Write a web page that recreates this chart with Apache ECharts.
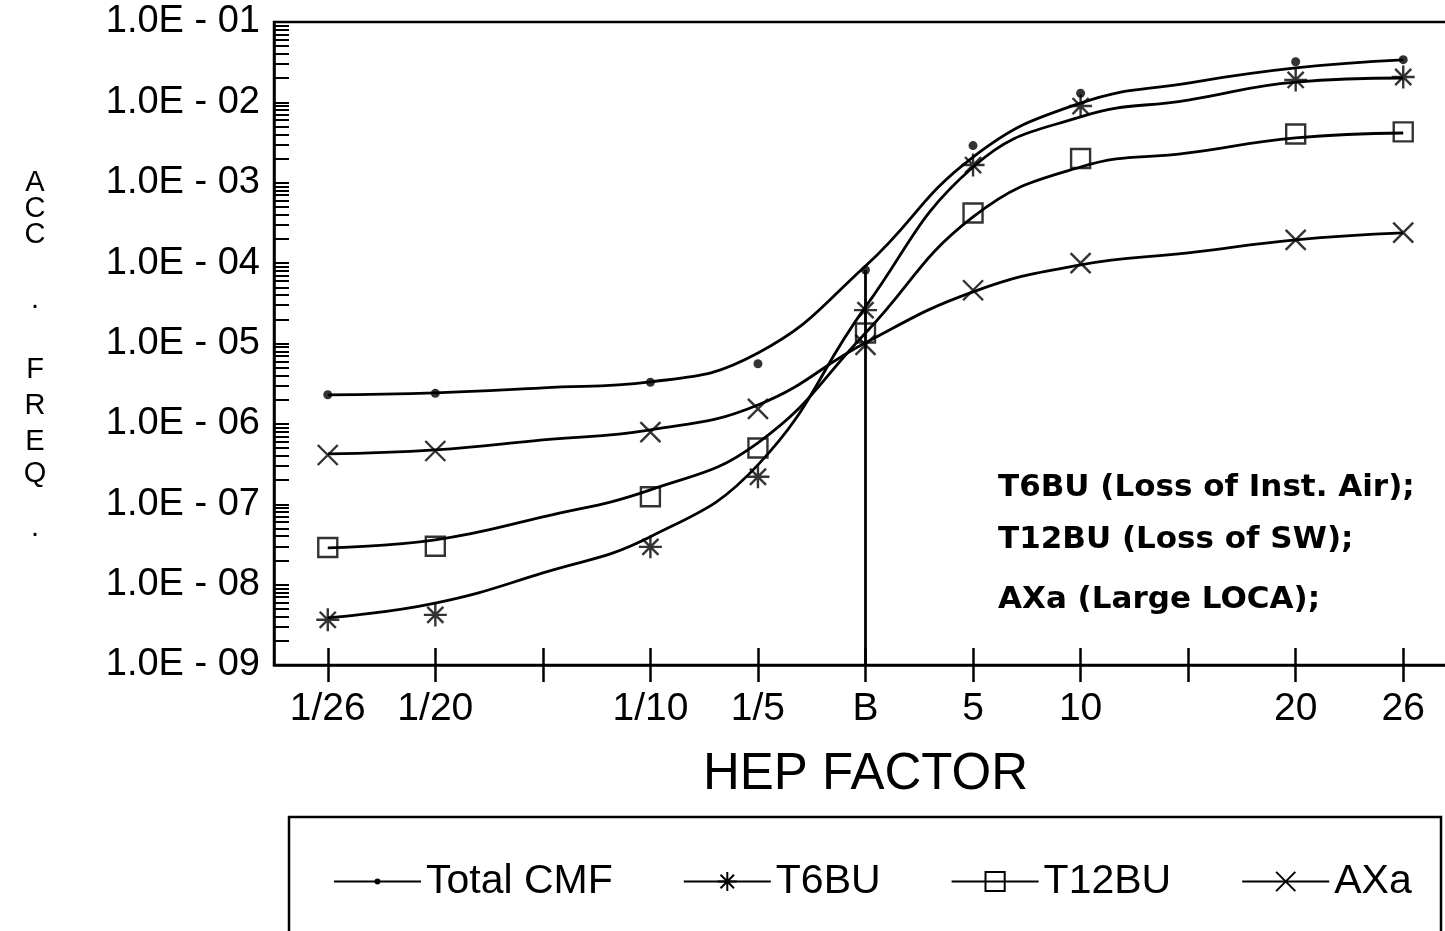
<!DOCTYPE html>
<html>
<head>
<meta charset="utf-8">
<script src="https://cdn.jsdelivr.net/npm/echarts@6/dist/echarts.min.js"></script>
<style>
  html, body { margin: 0; padding: 0; background: #fff; }
  #main { width: 1445px; height: 931px; }
</style>
</head>
<body>
<div id="main"></div>
<script>
// HEP factor positions (two unlabeled tick positions)
var hepLabels = ['1/26', '1/20', '', '1/10', '1/5', 'B', '5', '10', ' ', '20', '26'];
var decadeLabels = [1e-9, 1e-8, 1e-7, 1e-6, 1e-5, 1e-4, 1e-3, 1e-2, 1e-1];

// fitted curves
var totalCurve = [2.30e-6, 2.43e-6, 2.81e-6, 3.33e-6, 7.6e-6, 9.2e-5, 2.09e-3, 9.8e-3, 1.74e-2, 2.68e-2, 3.37e-2];
var t6buCurve  = [3.86e-9, 5.9e-9, 1.40e-8, 3.94e-8, 3.09e-7, 2.85e-5, 1.57e-3, 6.6e-3, 1.07e-2, 1.79e-2, 2.01e-2];
var t12buCurve = [2.87e-8, 3.61e-8, 6.97e-8, 1.51e-7, 5.81e-7, 1.35e-5, 3.76e-4, 1.57e-3, 2.35e-3, 3.61e-3, 4.16e-3];
var axaCurve   = [4.24e-7, 4.75e-7, 6.32e-7, 8.42e-7, 1.72e-6, 1.02e-5, 4.39e-5, 9.5e-5, 1.34e-4, 1.95e-4, 2.38e-4];

// plotted points
var totalPts = [2.3e-6, 2.4e-6, '-', 3.3e-6, 5.6e-6, 8.2e-5, 2.9e-3, 1.3e-2, '-', 3.2e-2, 3.4e-2];
var t6buPts  = [3.65e-9, 4.2e-9, '-', 2.95e-8, 2.2e-7, 2.6e-5, 1.66e-3, 9.0e-3, '-', 1.9e-2, 2.07e-2];
var t12buPts = [2.9e-8, 3.0e-8, '-', 1.24e-7, 5.0e-7, 1.35e-5, 4.2e-4, 2.0e-3, '-', 4.05e-3, 4.3e-3];
var axaPts   = [4.1e-7, 4.6e-7, '-', 7.9e-7, 1.54e-6, 9.6e-6, 4.6e-5, 1.0e-4, '-', 1.95e-4, 2.4e-4];

var notes = ['T6BU (Loss of Inst. Air);', 'T12BU (Loss of SW);', 'AXa (Large LOCA);'];

var chart = echarts.init(document.getElementById('main'));

// log ticks 1..9 x 10^e
var logTicks = [];
for (var e = -9; e <= -2; e++) {
    for (var m = 1; m <= 9; m++) {
        logTicks.push(parseFloat((m * Math.pow(10, e)).toPrecision(3)));
    }
}
logTicks.push(1e-1);

var FONT = 'Liberation Sans';
var symDot = 'path://M0,0L0,0M20,20L20,20M7,10a3,3 0 1,0 6,0a3,3 0 1,0 -6,0Z';
var symStar = 'path://M10,0L10,20M0,10L20,10M3,3L17,17M17,3L3,17';
var symX = 'path://M0,0L20,20M20,0L0,20';
var hollow = { color: 'transparent', borderColor: '#000', borderWidth: 2.4 };

function curve(name, data, symbol, itemStyle) {
    return {
        name: name, type: 'line', data: data, smooth: 0.45,
        symbol: symbol, showSymbol: false,
        itemStyle: itemStyle,
        lineStyle: { color: '#000', width: 2.8 },
        emphasis: { disabled: true }, z: 2
    };
}
function points(name, data, symbol, size, itemStyle) {
    return {
        name: name, type: 'scatter', data: data,
        symbol: symbol, symbolSize: size, itemStyle: itemStyle,
        emphasis: { disabled: true }, z: 3
    };
}

var tickStyle = { color: '#000', width: 2.5 };
var option = {
    animation: false,
    backgroundColor: '#fff',
    textStyle: { fontFamily: FONT, color: '#000' },
    grid: {
        left: 274, top: 22, width: 1183, bottom: 266,
        outerBoundsMode: 'none', containLabel: false,
        show: true, borderColor: '#000', borderWidth: 2.5
    },
    legend: {
        data: ['Total CMF', 'T6BU', 'T12BU', 'AXa'],
        left: 328, top: 856,
        itemWidth: 87, itemHeight: 24, itemGap: 70,
        textStyle: { fontSize: 41, color: '#000', fontFamily: FONT },
        selectedMode: false
    },
    xAxis: [{
        type: 'category', data: hepLabels, boundaryGap: true,
        name: 'HEP FACTOR', nameLocation: 'middle', nameGap: 84,
        nameTextStyle: { fontSize: 51, color: '#000', fontFamily: FONT },
        axisLine: { show: true, lineStyle: { color: '#000', width: 2.5 } },
        axisTick: { show: true, alignWithLabel: true, length: 17, lineStyle: tickStyle },
        axisLabel: { show: true, fontSize: 39, color: '#000', margin: 25, interval: 0, fontFamily: FONT },
        splitLine: { show: false }
    }, {
        type: 'category', data: hepLabels, boundaryGap: true, position: 'bottom',
        axisLine: { show: false },
        axisTick: { show: true, inside: true, alignWithLabel: true, length: 17, lineStyle: tickStyle },
        axisLabel: { show: false },
        splitLine: { show: false }
    }],
    yAxis: {
        type: 'log', logBase: 10, min: 1e-9, max: 1e-1,
        axisLine: { show: true, lineStyle: { color: '#000', width: 2.5 } },
        axisTick: { show: true, inside: true, length: 15, customValues: logTicks, lineStyle: { color: '#000', width: 2 } },
        axisLabel: {
            show: true, customValues: decadeLabels, fontSize: 38, color: '#000', margin: 14, fontFamily: FONT,
            formatter: function (v) {
                var ex = Math.round(-Math.log10(v));
                return '1.0E - 0' + ex;
            }
        },
        splitLine: { show: false }
    },
    graphic: [],
    series: [
        curve('Total CMF', totalCurve, symDot, { color: '#000' }),
        curve('T6BU', t6buCurve, symStar, hollow),
        curve('T12BU', t12buCurve, 'rect', hollow),
        curve('AXa', axaCurve, symX, hollow),
        points('Total CMF pts', totalPts, 'circle', 9, { color: '#000' }),
        points('T6BU pts', t6buPts, symStar, 23, hollow),
        points('T12BU pts', t12buPts, 'rect', 19, hollow),
        points('AXa pts', axaPts, symX, 20, hollow),
        {
            name: 'B line', type: 'line', data: [], silent: true,
            markLine: {
                symbol: 'none', silent: true, label: { show: false },
                lineStyle: { color: '#000', width: 2.8, type: 'solid' },
                data: [[{ coord: ['B', 1e-9] }, { coord: ['B', totalPts[5]] }]]
            }
        }
    ]
};

// stacked y-axis title letters
var yTitle = ['A', 'C', 'C', '.', 'F', 'R', 'E', 'Q', '.'];
var yTitlePos = [183, 209, 235, 300, 370, 406, 442, 474, 528];
yTitle.forEach(function (ch, i) {
    option.graphic.push({
        type: 'text',
        style: { text: ch, x: 35, y: yTitlePos[i], fill: '#000', font: '29px "' + FONT + '"', align: 'center', verticalAlign: 'middle' }
    });
});
var notePos = [488, 540, 600];
notes.forEach(function (t, i) {
    option.graphic.push({
        type: 'text',
        style: { text: t, x: 998, y: notePos[i], fill: '#000', font: 'bold 31px "DejaVu Sans"', verticalAlign: 'middle' }
    });
});
// legend frame
option.graphic.push({
    type: 'rect', shape: { x: 289, y: 817, width: 1152, height: 118 },
    style: { fill: 'none', stroke: '#000', lineWidth: 2.5 }
});

chart.setOption(option);
</script>
</body>
</html>
